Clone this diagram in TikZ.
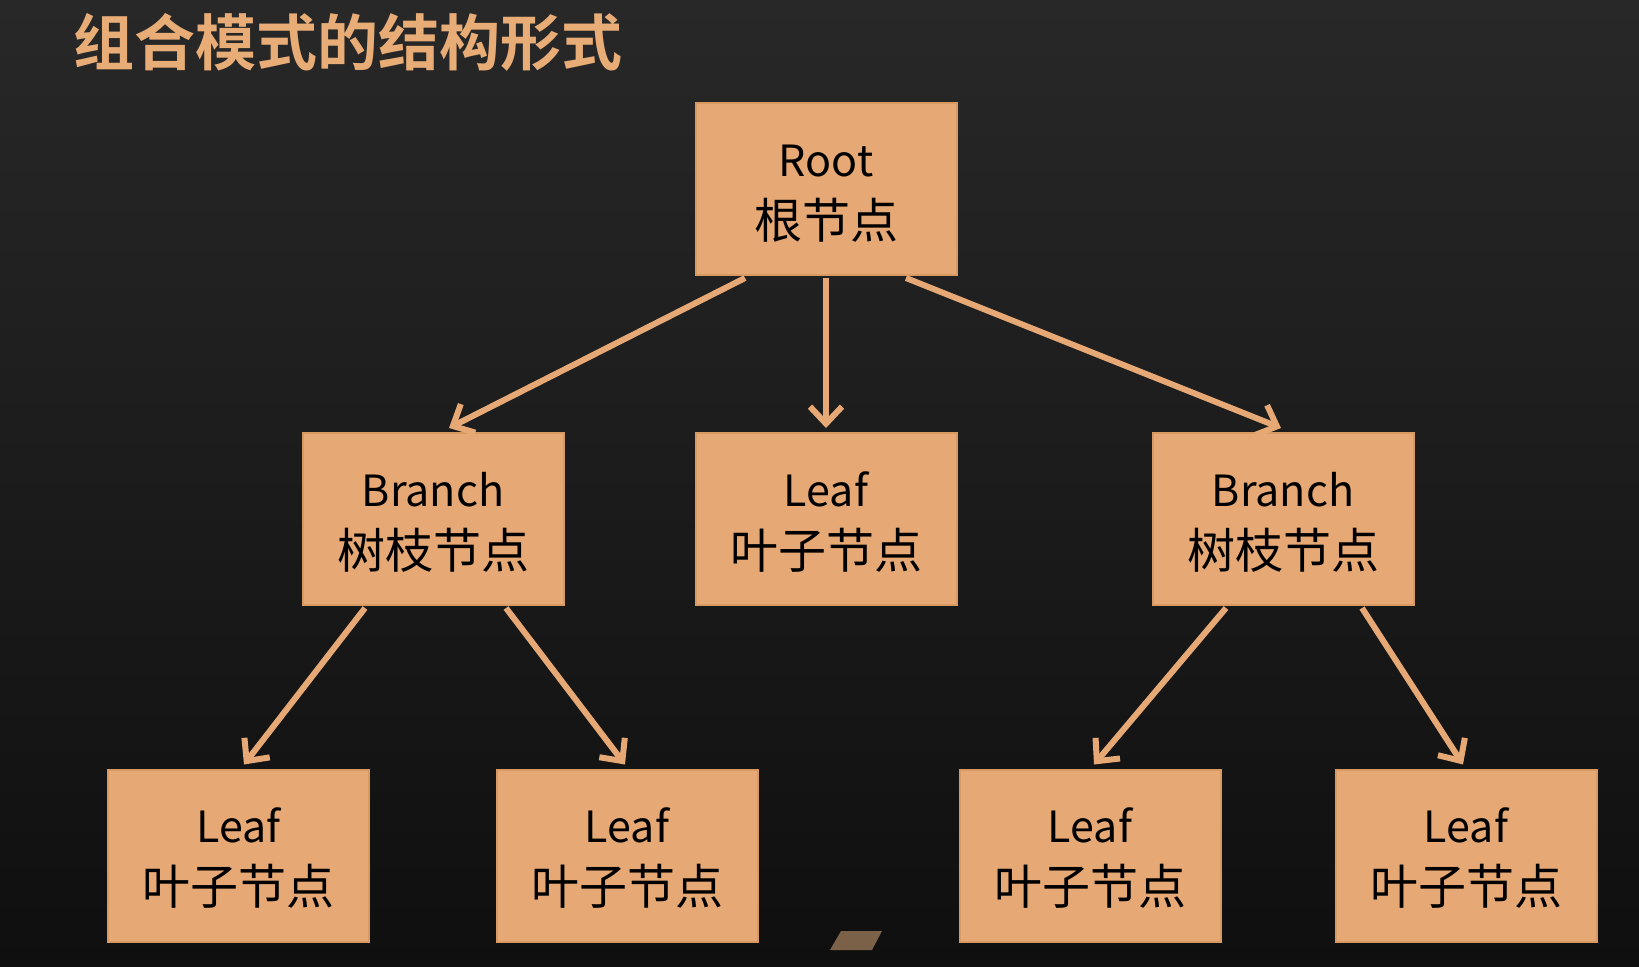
\documentclass[tikz,border=0pt]{standalone}
\usepackage{fontspec}
\newfontfamily\cjk{Noto Sans CJK SC}
\newfontfamily\cjkb{Noto Sans CJK SC Bold}
\usetikzlibrary{arrows.meta}
\definecolor{boxfill}{HTML}{E6A874}
\definecolor{boxline}{HTML}{D99A62}
\definecolor{titlecol}{HTML}{E8AC76}
\definecolor{bgtop}{HTML}{282828}
\definecolor{bgbot}{HTML}{0F0F0F}
\definecolor{shard}{HTML}{7A6148}
\tikzset{
  treebox/.style={draw=boxline, line width=1pt, fill=boxfill, minimum width=130.5pt, minimum height=86pt,
    inner sep=0pt, align=center, text=black, font=\cjk\fontsize{24}{31}\selectfont},
  conn/.style={draw=boxfill, line width=3pt, -{Straight Barb[length=8.5pt,width=16pt,line width=3pt]}},
}
\newcommand{\lat}[1]{\rule{0pt}{20pt}{\fontsize{21.5}{21.5}\selectfont #1}}
\begin{document}
\begin{tikzpicture}[x=0.5pt,y=-0.5pt]
\useasboundingbox (0,0) rectangle (1639,966);
\shade[top color=bgtop, bottom color=bgbot] (0,0) rectangle (1639,966);
\fill[shard] (830,950) -- (841,931) -- (882,931) -- (872,950) -- cycle;
\node[anchor=west, text=titlecol, font=\cjkb\fontsize{30.5}{30.5}\selectfont] (title) at (66,42) {组合模式的结构形式};

\node[treebox] (root) at (826,189) {\lat{Root}\\根节点};
\node[treebox] (bl) at (433,519) {\lat{Branch}\\树枝节点};
\node[treebox] (lm) at (826,519) {\lat{Leaf}\\叶子节点};
\node[treebox] (br) at (1283,519) {\lat{Branch}\\树枝节点};
\node[treebox] (l1) at (238.5,855.5) {\lat{Leaf}\\叶子节点};
\node[treebox] (l2) at (627,855.5) {\lat{Leaf}\\叶子节点};
\node[treebox] (l3) at (1090,855.5) {\lat{Leaf}\\叶子节点};
\node[treebox] (l4) at (1466,855.5) {\lat{Leaf}\\叶子节点};

\draw[conn] ([xshift=-40.5pt,yshift=-1pt]root.south) -- ([xshift=8pt,yshift=2pt]bl.north);
\draw[conn] ([yshift=-1pt]root.south) -- ([yshift=2pt]lm.north);
\draw[conn] ([xshift=40pt,yshift=-1pt]root.south) -- ([xshift=-1pt,yshift=2pt]br.north);
\draw[conn] ([xshift=-34pt,yshift=-1pt]bl.south) -- ([xshift=2.75pt,yshift=2pt]l1.north);
\draw[conn] ([xshift=36.5pt,yshift=-1pt]bl.south) -- ([xshift=-1pt,yshift=2pt]l2.north);
\draw[conn] ([xshift=-28.5pt,yshift=-1pt]br.south) -- ([xshift=2pt,yshift=2pt]l3.north);
\draw[conn] ([xshift=39.5pt,yshift=-1pt]br.south) -- ([xshift=-1.5pt,yshift=2pt]l4.north);
\end{tikzpicture}
\end{document}
